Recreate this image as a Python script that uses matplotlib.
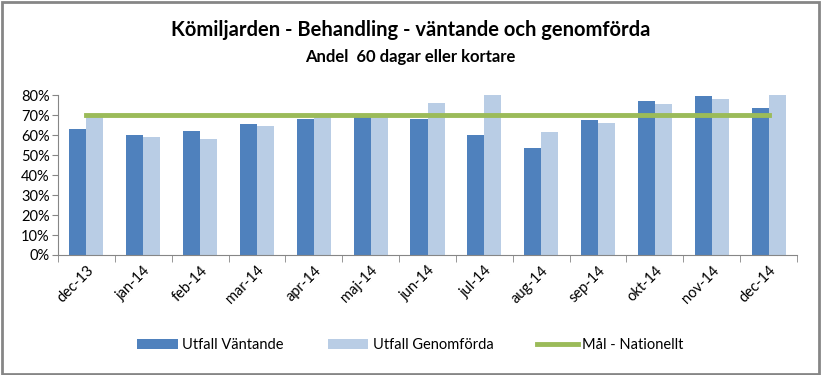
import numpy as np
import matplotlib.pyplot as plt
from matplotlib.ticker import PercentFormatter
from matplotlib.patches import Rectangle

plt.rcParams['font.family'] = ['Lato', 'DejaVu Sans']

# Data
months = ['dec-13', 'jan-14', 'feb-14', 'mar-14', 'apr-14', 'maj-14', 'jun-14',
          'jul-14', 'aug-14', 'sep-14', 'okt-14', 'nov-14', 'dec-14']
vantande = [63.2, 60.1, 62.1, 65.6, 68.1, 69.4, 68.1, 60.1, 53.6, 67.6, 77.1, 79.6, 73.6]
genomforda = [69.5, 59.2, 58.1, 64.6, 69.5, 69.5, 76.1, 80.1, 61.6, 66.1, 75.6, 78.1, 80.1]
mal = [70] * len(months)

fig = plt.figure(figsize=(8.21, 3.75), dpi=100)
ax = fig.add_axes([58 / 821, 1 - 255 / 375, (797 - 58) / 821, 160 / 375])

x = np.arange(len(months))
w = 0.3
b1 = ax.bar(x - w / 2, vantande, w, color='#4f81bd', label='Utfall Väntande')
b2 = ax.bar(x + w / 2, genomforda, w, color='#b9cde5', label='Utfall Genomförda')
l1, = ax.plot(x, mal, color='#9bbb59', linewidth=3.5, label='Mål - Nationellt')

ax.set_xlim(-0.5, len(months) - 0.5)
ax.set_ylim(0, 80)
ax.set_yticks(range(0, 81, 10))
ax.yaxis.set_major_formatter(PercentFormatter(decimals=0))
ax.set_xticks(x)
ax.set_xticklabels(months, rotation=45, ha='right', rotation_mode='anchor')
ax.set_xticks(np.arange(-0.5, len(months)), minor=True)
ax.tick_params(axis='x', which='major', length=0, labelsize=10.5, pad=6)
ax.tick_params(axis='x', which='minor', length=5, color='#868686')
ax.tick_params(axis='y', length=4, color='#868686', labelsize=10.5, pad=2)
for s in ['top', 'right']:
    ax.spines[s].set_visible(False)
for s in ['left', 'bottom']:
    ax.spines[s].set_color('#868686')

fig.text(0.5, 1 - 30 / 375, 'Kömiljarden - Behandling - väntande och genomförda',
         ha='center', va='center', fontsize=14.5, fontweight='bold')
fig.text(0.5, 1 - 57 / 375, 'Andel  60 dagar eller kortare',
         ha='center', va='center', fontsize=12, fontweight='bold')

fig.legend([b1, b2, l1], ['Utfall Väntande', 'Utfall Genomförda', 'Mål - Nationellt'],
           loc='center', bbox_to_anchor=(0.5, 1 - 345 / 375), ncol=3, frameon=False,
           fontsize=10.5, handlelength=2.8, columnspacing=3, handletextpad=0.3)

fig.patches.append(Rectangle((0.002, 0.003), 0.995, 0.993, transform=fig.transFigure,
                             fill=False, edgecolor='#868686', linewidth=2))

fig.savefig('out.png', dpi=100)
